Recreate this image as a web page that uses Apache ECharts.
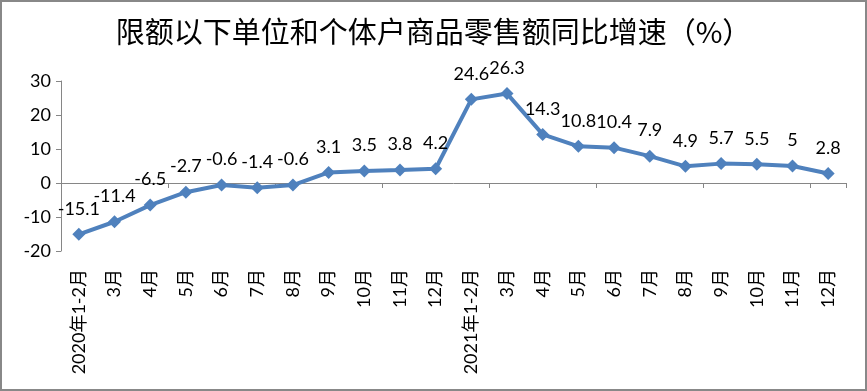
<!DOCTYPE html>
<html><head><meta charset="utf-8">
<script src="https://cdn.jsdelivr.net/npm/echarts@6/dist/echarts.min.js"></script>
<style>html,body{margin:0;padding:0;background:#fff}#c{width:867px;height:391px}</style>
</head><body><div id="c"></div>
<script>
const categories = ["2020年1-2月","3月","4月","5月","6月","7月","8月","9月","10月","11月","12月",
  "2021年1-2月","3月","4月","5月","6月","7月","8月","9月","10月","11月","12月"];
const values = [-15.1,-11.4,-6.5,-2.7,-0.6,-1.4,-0.6,3.1,3.5,3.8,4.2,24.6,26.3,14.3,10.8,10.4,7.9,4.9,5.7,5.5,5,2.8];
const yTicks = {min:-20, max:30, interval:10};
const titleText = "限额以下单位和个体户商品零售额同比增速（%）";

const chart = echarts.init(document.getElementById('c'), null, {renderer:'canvas'});
const latin = 'Lato, "Noto Sans", sans-serif';
chart.setOption({
  animation:false,
  backgroundColor:'#fff',
  title:{text:titleText,left:'center',top:12,textStyle:{fontFamily:'"Noto Sans CJK SC"',fontSize:29,fontWeight:'normal',color:'#000'}},
  graphic:[{type:'rect',shape:{x:1,y:1,width:865,height:389},style:{fill:'none',stroke:'#888',lineWidth:2},silent:true}],
  grid:{left:61,right:21,top:81,bottom:140},
  xAxis:[
    {type:'category',data:categories,boundaryGap:true,
     axisLine:{onZero:true,lineStyle:{color:'#868686',width:1}},
     axisTick:{show:true,length:5,lineStyle:{color:'#868686'}},
     axisLabel:{show:false},splitLine:{show:false}},
    {type:'category',data:categories,position:'bottom',boundaryGap:true,
     axisLine:{show:false,onZero:false},axisTick:{show:false},
     axisLabel:{rotate:90,margin:18,fontSize:18,color:'#000',fontFamily:'Lato, "Noto Sans CJK SC", sans-serif',interval:0}}
  ],
  yAxis:{type:'value',min:yTicks.min,max:yTicks.max,interval:yTicks.interval,
    axisLine:{show:true,lineStyle:{color:'#868686'}},
    axisTick:{show:true,length:5,lineStyle:{color:'#868686'}},
    axisLabel:{fontSize:18,color:'#000',fontFamily:latin,margin:10},
    splitLine:{show:false}},
  series:[{type:'line',data:values,xAxisIndex:0,
    lineStyle:{color:'#4F81BD',width:4},
    itemStyle:{color:'#4F81BD'},
    symbol:'diamond',symbolSize:13,
    label:{show:true,position:'top',distance:10,fontSize:18,color:'#000',fontFamily:latin}
  }]
});
</script></body></html>
